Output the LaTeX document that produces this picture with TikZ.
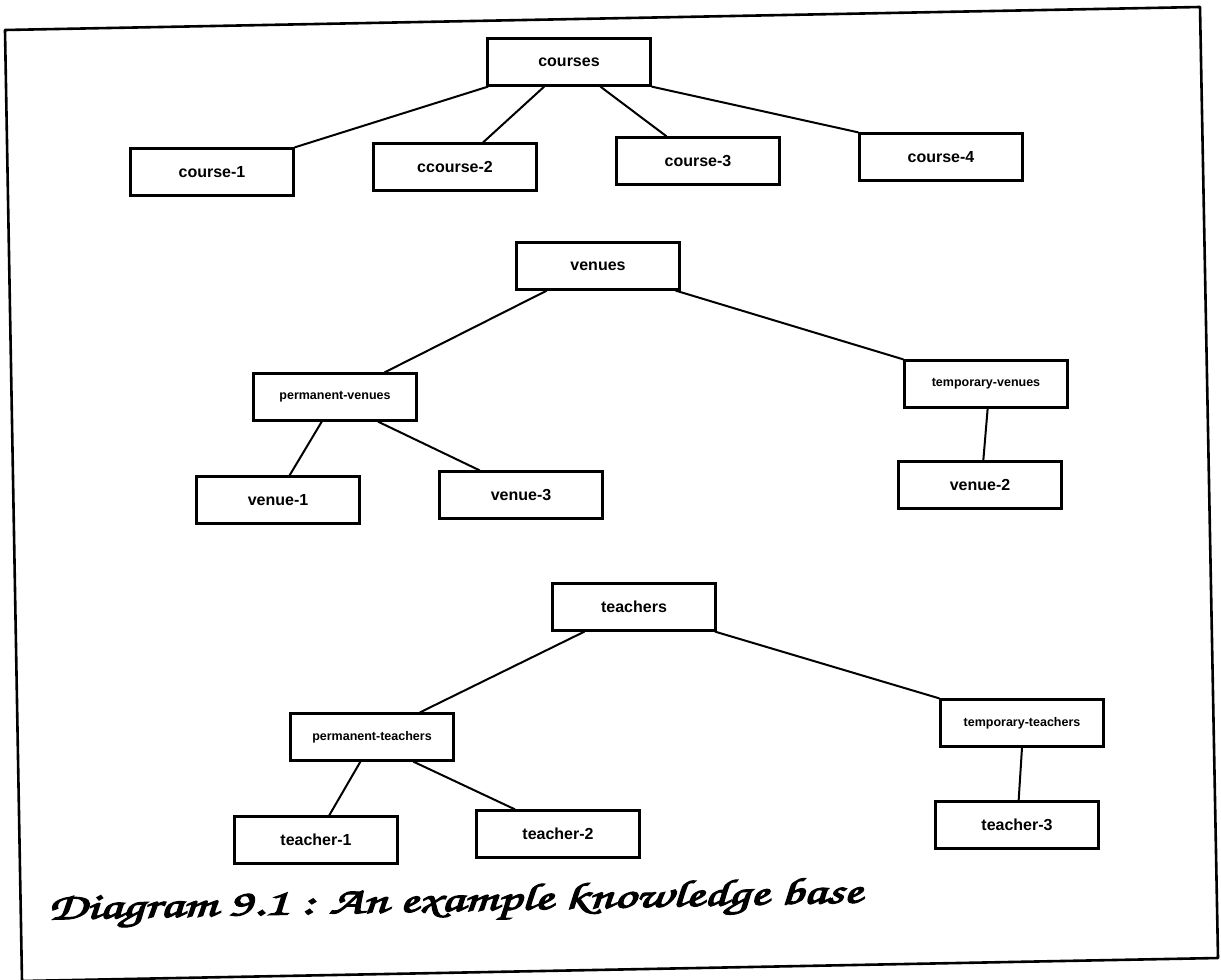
\documentclass[tikz,border=0pt]{standalone}
\usepackage{fontspec}
\usepackage[T1,TU]{fontenc}
\usepackage{graphicx}
\setsansfont{Liberation Sans}
\usetikzlibrary{calc}

% fonts for the box labels and the caption
\newcommand\labelfont{\sffamily\bfseries\fontsize{16}{16}\selectfont}
\newcommand\smalllabelfont{\sffamily\bfseries\fontsize{12.5}{12.5}\selectfont}
\newcommand\captfont{\fontencoding{T1}\fontfamily{pzc}\fontseries{m}\fontshape{it}\selectfont}
% thicken a thin script face: fill and stroke the glyph outlines
\newcommand\heavy[1]{%
  \special{pdf:literal direct 2 Tr 0.3 w}#1\special{pdf:literal direct 0 Tr}}

% connector from a point on the parent's lower edge to a point on the child's upper edge
\newcommand\kblink[4]{%
  \draw[edge] ($(#1.south west)!#2!(#1.south east)$) -- ($(#3.north west)!#4!(#3.north east)$);}

\begin{document}
\begin{tikzpicture}[x=1pt,y=-1pt,
  kb/.style={draw, line width=2.2pt, minimum width=163pt, minimum height=47pt,
             inner sep=0pt, font=\labelfont},
  kbsmall/.style={kb, font=\smalllabelfont},
  edge/.style={line width=2pt},
  frame/.style={line width=2.6pt, line join=round}]
\useasboundingbox (0,0) rectangle (1221,980);

% outer frame (its lower edge runs just off the page at the left)
\draw[frame] (5,30) -- (1200,7) -- (1218,958) -- (22,981) -- cycle;

% courses
\node[kb] (courses)  at (569,62)  {courses};
\node[kb] (course1)  at (212,172) {course-1};
\node[kb] (course2)  at (455,167) {ccourse-2};
\node[kb] (course3)  at (698,161) {course-3};
\node[kb] (course4)  at (941,157) {course-4};

% venues
\node[kb] (venues)   at (598,266) {venues};
\node[kbsmall] (pvenues) at (335,397) {permanent-venues};
\node[kbsmall] (tvenues) at (986,384) {temporary-venues};
\node[kb] (venue1)   at (278,500) {venue-1};
\node[kb] (venue3)   at (521,495) {venue-3};
\node[kb] (venue2)   at (980,485) {venue-2};

% teachers
\node[kb] (teachers) at (634,607) {teachers};
\node[kbsmall] (pteachers) at (372,737) {permanent-teachers};
\node[kbsmall] (tteachers) at (1022,723) {temporary-teachers};
\node[kb] (teacher1) at (316,840) {teacher-1};
\node[kb] (teacher2) at (558,834) {teacher-2};
\node[kb] (teacher3) at (1017,825) {teacher-3};

% links
\kblink{courses}{0.01}{course1}{1}
\kblink{courses}{0.35}{course2}{0.67}
\kblink{courses}{0.69}{course3}{0.31}
\kblink{courses}{1}{course4}{0}

\kblink{venues}{0.19}{pvenues}{0.80}
\kblink{venues}{0.97}{tvenues}{0}
\kblink{pvenues}{0.42}{venue1}{0.57}
\kblink{pvenues}{0.76}{venue3}{0.25}
\kblink{tvenues}{0.51}{venue2}{0.52}

\kblink{teachers}{0.20}{pteachers}{0.79}
\kblink{teachers}{0.99}{tteachers}{0}
\kblink{pteachers}{0.43}{teacher1}{0.58}
\kblink{pteachers}{0.75}{teacher2}{0.24}
\kblink{tteachers}{0.50}{teacher3}{0.51}

% caption
\node[anchor=west, inner sep=0pt, rotate=1.2] (caption) at (48,912)
  {\resizebox*{814pt}{38pt}{\captfont\heavy{Diagram 9.1 : An example knowledge base}}};
\end{tikzpicture}
\end{document}
